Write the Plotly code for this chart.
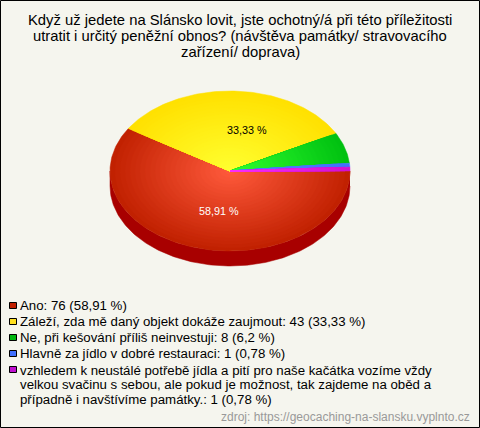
import numpy as np
import plotly.graph_objects as go

title_lines = ["Když už jedete na Slánsko lovit, jste ochotný/á při této příležitosti",
               "utratit i určitý peněžní obnos? (návštěva památky/ stravovacího",
               "zařízení/ doprava)"]
categories = ["Ano", "Záleží, zda mě daný objekt dokáže zaujmout", "Ne, při kešování příliš neinvestuji",
              "Hlavně za jídlo v dobré restauraci",
              "vzhledem k neustálé potřebě jídla a pití pro naše kačátka vozíme vždy\nvelkou svačinu s sebou, ale pokud je možnost, tak zajdeme na oběd a\npřípadně i navštívíme památky."]
counts = [76, 43, 8, 1, 1]
percent_text = ["58,91 %", "33,33 %", "6,2 %", "0,78 %", "0,78 %"]
edge_colors = [(192, 32, 0), (255, 224, 0), (0, 192, 16), (64, 112, 255), (208, 16, 208)]
center_colors = [(255, 90, 60), (255, 255, 48), (48, 255, 48), (96, 128, 255), (255, 48, 255)]
swatch_colors = ["#c02000", "#ffe020", "#00b810", "#4070ff", "#c010d0"]
source = "zdroj: https://geocaching-na-slansku.vyplnto.cz"

W, H = 480, 428
CX, CY, RX, RY, DEPTH = 230, 171, 120, 80, 15
RINGS = 24
total = sum(counts)
fig = go.Figure()

def add(xs, ys, color):
    fig.add_trace(go.Scatter(x=xs, y=ys, mode="lines", fill="toself", fillcolor=color,
                             line=dict(width=0.5, color=color), hoverinfo="skip", showlegend=False))

# rim of the pie
t = np.linspace(0, np.pi, 181)
xs = np.concatenate([CX + RX * np.cos(t), (CX + RX * np.cos(t))[::-1]])
ys = np.concatenate([CY + RY * np.sin(t) + DEPTH, (CY + RY * np.sin(t))[::-1]])
add(xs, ys, "#a80000")

# top surface: angles run clockwise on screen from the east point
start = 0.0
for count, c0, c1 in zip(counts, center_colors, edge_colors):
    sweep = count / total * 2 * np.pi
    a = np.linspace(start, start + sweep, max(3, int(np.degrees(sweep)) + 2))
    for i in range(RINGS, 0, -1):
        f = i / RINGS
        mix = (i - 0.5) / RINGS
        col = "rgb(%d,%d,%d)" % tuple(round(p + (q - p) * mix) for p, q in zip(c0, c1))
        add(np.r_[CX, CX + f * RX * np.cos(a), CX], np.r_[CY, CY + f * RY * np.sin(a), CY], col)
    start += sweep

ann = []
def text(x, y, s, size=13, color="#000000", anchor="left"):
    ann.append(dict(x=x, y=y, text=s, showarrow=False, xref="x", yref="y", xanchor=anchor, yanchor="middle",
                    align=anchor, font=dict(size=size, color=color), borderpad=0, borderwidth=0))

for i, line in enumerate(title_lines):
    text(240, 20 + i * 16, line, size=14.8, anchor="center")

text(246.5, 129.5, percent_text[1], size=10.8, anchor="center")
text(218.5, 211, percent_text[0], size=10.8, color="#ffffff", anchor="center")

shapes = [dict(type="rect", xref="x", yref="y", x0=0.5, y0=0.5, x1=W - 0.5, y1=H - 0.5,
               line=dict(color="#000000", width=1), layer="above")]
swatch_top = [302, 318, 334, 350, 366]
text_y = [[305.7], [321.7], [337.3], [353.3], [370, 384.5, 399]]
for top, ys_, cat, n, p, sw in zip(swatch_top, text_y, categories, counts, percent_text, swatch_colors):
    shapes.append(dict(type="rect", xref="x", yref="y", x0=9.5, x1=16.5, y0=top + 0.5, y1=top + 6.5,
                       fillcolor=sw, line=dict(color="#000000", width=1)))
    for y, line in zip(ys_, f"{cat}: {n} ({p})".split("\n")):
        text(20, y, line, size=13.25)
text(470, 416.7, source, size=12, color="#999999", anchor="right")

fig.update_layout(width=W, height=H, margin=dict(l=0, r=0, t=0, b=0), paper_bgcolor="#f5f5ee",
                  plot_bgcolor="#f5f5ee", showlegend=False, shapes=shapes, annotations=ann,
                  font=dict(family="Liberation Sans, Arial, sans-serif"),
                  xaxis=dict(range=[0, W], visible=False, fixedrange=True),
                  yaxis=dict(range=[H, 0], visible=False, fixedrange=True))
fig.write_html("out.html", config=dict(displayModeBar=False),
               post_script="document.body.style.margin='0';document.documentElement.style.overflow='hidden';")
